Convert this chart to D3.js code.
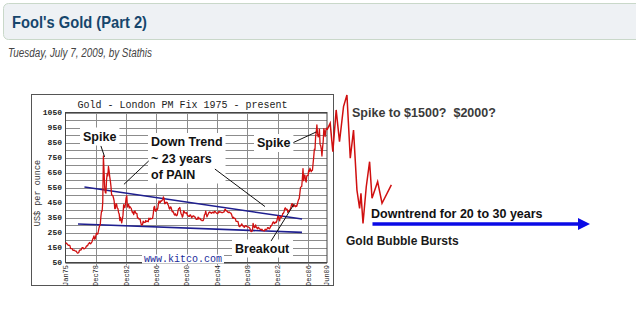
<!DOCTYPE html>
<html><head><meta charset="utf-8">
<script src="https://cdn.jsdelivr.net/npm/d3@7/dist/d3.min.js"></script>
<style>html,body{margin:0;padding:0;background:#fff;overflow:hidden}svg{display:block}</style>
</head><body>
<svg id="c" width="636" height="336"></svg>
<script>
// ---------- DATA ----------
const pageTitle = "Fool's Gold (Part 2)";
const pageByline = "Tuesday, July 7, 2009, by Stathis";
const chartTitle = "Gold - London PM Fix 1975 - present";
const goldStartYear = 1975;
// monthly London PM fix, US$ per ounce, Jan 1975 .. Jul 2009
const goldPrices = [
 176,180,178,170,167,164,165,163,144,142,143,139,
 131,131,132,128,126,126,118,112,114,117,130,134,
 132,136,148,149,147,141,143,145,149,158,162,161,
 173,178,183,175,176,183,188,206,212,227,206,208,
 227,245,242,239,257,279,295,301,355,392,392,456,
 760,665,554,517,513,600,644,627,690,661,623,594,
 557,500,499,495,480,461,409,410,443,437,413,410,
 384,374,330,350,333,314,339,364,435,422,415,444,
 481,495,420,432,437,413,422,416,412,394,381,388,
 370,386,394,381,377,377,347,348,341,340,341,320,
 303,299,304,325,316,317,317,330,323,325,325,322,
 345,338,345,340,342,343,348,376,418,424,395,391,
 408,401,409,438,460,450,450,461,460,465,468,487,
 477,442,443,452,451,451,437,431,413,406,420,419,
 404,388,390,385,371,367,375,365,362,367,393,409,
 410,417,393,374,369,352,362,394,389,381,381,378,
 383,364,363,358,357,367,367,356,348,358,360,361,
 354,354,345,338,337,340,353,340,345,344,335,334,
 329,330,330,342,367,372,392,372,355,365,373,383,
 387,382,384,378,381,385,385,380,391,389,384,379,
 378,376,382,391,385,387,386,383,383,383,386,387,
 400,405,396,393,392,385,383,387,383,381,378,369,
 355,346,352,344,344,341,324,324,323,324,306,289,
 289,297,296,308,299,292,293,284,289,296,294,291,
 287,287,286,282,277,261,256,257,265,311,293,283,
 284,300,286,280,275,285,282,274,273,270,266,272,
 266,262,263,261,272,270,268,273,283,283,276,275,
 282,296,294,303,314,321,313,310,319,316,319,333,
 356,359,340,328,355,356,351,359,378,378,389,407,
 414,405,406,404,384,392,398,400,405,420,439,442,
 424,423,434,428,422,430,424,438,456,469,476,510,
 549,555,557,610,676,596,633,632,598,586,627,629,
 631,665,655,679,667,655,665,665,712,754,806,803,
 889,922,968,909,888,890,939,839,829,806,760,816,
 858,943,924,890,928,946,934
];
// hand-drawn projection beyond the chart
const projYears  = [2009.5,2009.92,2010.27,2010.71,2011.15,2011.68,2012.13,2012.57,2013.0,2013.45,2013.8,2013.98,2014.25,2014.68,2015.12,2015.44,2016.18,2016.76,2017.99];
const projPrices = [934,978,789,1067,855,1089,1167,745,933,533,411,511,311,555,722,478,589,445,567];
// trend lines [year, price]
const upperTrend = [[1977.5,553],[2006.2,340]];
const lowerTrend = [[1976.65,307],[2006.2,251]];
// axis ticks
const yTicks = [1050,950,850,750,650,550,450,350,250,150,50];
const yGrid = d3.range(50,1051,50);
const xTickYears  = [1975,1979,1983,1987,1991,1995,1999,2003,2007,2009.5];
const xTickLabels = ["Jan75","Dec78","Dec82","Dec86","Dec90","Dec94","Dec98","Dec02","Dec06","Jun09"];
// leader lines [[year,price],[year,price]]
const leaders = [
  [[1979.67,827],[1980.16,754]],
  [[1982.71,571],[1985.98,727]],
  [[1994.71,673],[2001.32,423]],
  [[2005.07,850],[2008.07,920]],
  [[2002.12,193],[2005.16,440]]
];
const arrowLine = [[2015.5,307],[2044.2,307]];

// ---------- DRAW ----------
const svg = d3.select("#c");
const x = d3.scaleLinear().domain([1975,2009.5]).range([65.5,327]);
const y = d3.scaleLinear().domain([50,1050]).range([262.5,112.5]);

// header
svg.append("rect").attr("x",3.5).attr("y",3.5).attr("width",640).attr("height",36)
  .attr("rx",5).attr("fill","#eef1f4").attr("stroke","#c9d8c9");
svg.append("text").attr("x",12).attr("y",28).text(pageTitle)
  .attr("font-family","Liberation Sans, Arial, sans-serif").attr("font-weight","bold")
  .attr("font-size",16.5).attr("fill","#16466c").attr("textLength",135).attr("lengthAdjust","spacingAndGlyphs");
svg.append("text").attr("x",8).attr("y",57).text(pageByline)
  .attr("font-family","Liberation Sans, Arial, sans-serif").attr("font-style","italic")
  .attr("font-size",12.5).attr("fill","#444").attr("textLength",144).attr("lengthAdjust","spacingAndGlyphs");

// chart image frame
svg.append("rect").attr("x",31.5).attr("y",94.5).attr("width",302).attr("height",191)
  .attr("fill","#fff").attr("stroke","#555");

const mono = "Liberation Mono, Courier New, monospace";
svg.append("text").attr("x",182.5).attr("y",108).attr("text-anchor","middle")
  .attr("font-family",mono).attr("font-size",10).attr("fill","#222").text(chartTitle);

// grid
const g = svg.append("g");
g.selectAll("line.h").data(yGrid).join("line")
  .attr("x1",x.range()[0]).attr("x2",x.range()[1])
  .attr("y1",d=>Math.round(y(d))+0.5).attr("y2",d=>Math.round(y(d))+0.5)
  .attr("stroke","#8c8c8c").attr("stroke-width",1);
g.selectAll("line.v").data(xTickYears.slice(1,-1)).join("line")
  .attr("x1",d=>Math.round(x(d))+0.5).attr("x2",d=>Math.round(x(d))+0.5)
  .attr("y1",y(1050)).attr("y2",y(50)+3)
  .attr("stroke","#8c8c8c").attr("stroke-width",1);
g.append("rect").attr("x",x.range()[0]).attr("y",y(1050)).attr("width",x.range()[1]-x.range()[0])
  .attr("height",y(50)-y(1050)).attr("fill","none").attr("stroke","#444");

// axes labels
svg.selectAll("text.yl").data(yTicks).join("text")
  .attr("x",62).attr("y",d=>y(d)).attr("dy","0.35em").attr("text-anchor","end")
  .attr("font-family",mono).attr("font-size",8).attr("font-weight","bold").attr("fill","#222").text(d=>d);
svg.selectAll("text.xl").data(xTickYears).join("text")
  .attr("transform",(d)=>`translate(${x(d)},265) rotate(-90)`).attr("dy","0.35em").attr("text-anchor","end")
  .attr("font-family",mono).attr("font-size",7).attr("fill","#222").text((d,i)=>xTickLabels[i]);
svg.append("text").attr("transform","translate(37,193) rotate(-90)").attr("dy","0.35em")
  .attr("text-anchor","middle").attr("font-family",mono).attr("font-size",8.5).attr("fill","#333").text("US$ per ounce");

// watermark
const wm = svg.append("text").attr("x",183).attr("y",261.5).attr("text-anchor","middle")
  .attr("font-family",mono).attr("font-size",10).attr("fill","#1a2a9a").text("www.kitco.com");

function boxFor(nodes,px,py){
  let x0=1e9,y0=1e9,x1=-1e9,y1=-1e9;
  nodes.forEach(n=>{const b=n.getBBox();x0=Math.min(x0,b.x);y0=Math.min(y0,b.y);x1=Math.max(x1,b.x+b.width);y1=Math.max(y1,b.y+b.height);});
  return [x0-px,y0-py,x1-x0+2*px,y1-y0+2*py];
}
const sans = "Liberation Sans, Arial, sans-serif";
function label(parent,tx,ty,str,size,fill){
  return parent.append("text").attr("x",tx).attr("y",ty).attr("font-family",sans).attr("font-weight","bold")
    .attr("font-size",size).attr("fill",fill||"#111").style("white-space","pre").text(str);
}
const boxLayer = svg.append("g");
const lineLayer = svg.append("g");
const textLayer = svg.append("g");

const groups = [
  [[83,140.5,"Spike"]],
  [[151,146,"Down Trend"],[151,162.5,"~ 23 years"],[151,178.5,"of PAIN"]],
  [[257,147,"Spike"]],
  [[235,252.5,"Breakout"]]
];
groups.forEach(gr=>{
  const nodes = gr.map(t=>label(textLayer,t[0],t[1],t[2],12.5).node());
  const b = boxFor(nodes,3,2);
  boxLayer.append("rect").attr("x",b[0]).attr("y",b[1]).attr("width",b[2]).attr("height",b[3]).attr("fill","#fff");
});
{const b = wm.node().getBBox();
 boxLayer.append("rect").attr("x",b.x-2).attr("y",b.y+1).attr("width",b.width+4).attr("height",b.height-2).attr("fill","#fff");
 wm.raise();}

// trend lines
const line = d3.line().x(d=>x(d[0])).y(d=>y(d[1]));
[upperTrend,lowerTrend].forEach(t=>lineLayer.append("path").attr("d",line(t))
  .attr("stroke","#1f1f8f").attr("stroke-width",1.6).attr("fill","none"));

// price line
const series = goldPrices.map((p,i)=>[goldStartYear+i/12,p]);
lineLayer.append("path").attr("d",line(series)).attr("fill","none")
  .attr("stroke","#d01010").attr("stroke-width",1.3).attr("stroke-linejoin","round");
// projection
const proj = projYears.map((yr,i)=>[yr,projPrices[i]]);
lineLayer.append("path").attr("d",line(proj)).attr("fill","none")
  .attr("stroke","#d01010").attr("stroke-width",1.5).attr("stroke-linejoin","miter");

// leader lines
leaders.forEach(l=>textLayer.append("path").attr("d",line(l)).attr("stroke","#111").attr("stroke-width",1).attr("fill","none"));

// right side annotations
label(textLayer,352,117,"Spike to $1500?  $2000?",12.5,"#3a3a3a");
label(textLayer,371,218,"Downtrend for 20 to 30 years",12.5,"#111");
label(textLayer,346,245,"Gold Bubble Bursts",12,"#1a1a1a");
// arrow
const ax0 = x(arrowLine[0][0]), ax1 = x(arrowLine[1][0]), ay = y(arrowLine[0][1]);
textLayer.append("line").attr("x1",ax0).attr("x2",ax1-10).attr("y1",ay).attr("y2",ay)
  .attr("stroke","#0a0ae6").attr("stroke-width",3.5);
textLayer.append("path").attr("d",`M${ax1},${ay} L${ax1-12},${ay-6} L${ax1-12},${ay+6} Z`).attr("fill","#0a0ae6");
</script>
</body></html>
